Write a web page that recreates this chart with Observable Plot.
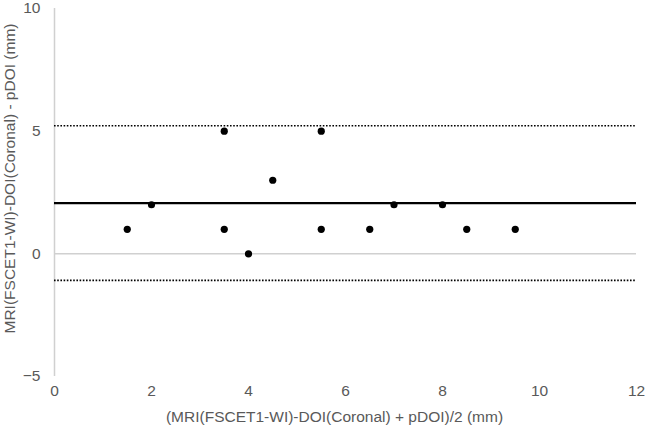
<!DOCTYPE html>
<html>
<head>
<meta charset="utf-8">
<script src="https://cdn.jsdelivr.net/npm/d3@7"></script>
<script src="https://cdn.jsdelivr.net/npm/@observablehq/plot@0.6"></script>
<style>
  html, body { margin: 0; padding: 0; background: #fff; }
  #chart { width: 646px; height: 430px; }
</style>
</head>
<body>
<div id="chart"></div>
<script>
const meanValues = [1.5, 2, 3.5, 3.5, 4, 4.5, 5.5, 5.5, 6.5, 7, 8, 8.5, 9.5];
const diffValues = [1, 2, 5, 1, 0, 3, 5, 1, 1, 2, 2, 1, 1];
const biasLine = 2.07;
const upperLimit = 5.22;
const lowerLimit = -1.08;
const xTicks = [0, 2, 4, 6, 8, 10, 12];
const yTicks = [-5, 0, 5, 10];
const xLabel = "(MRI(FSCET1-WI)-DOI(Coronal) + pDOI)/2 (mm)";
const yLabel = "MRI(FSCET1-WI)-DOI(Coronal) - pDOI (mm)";

const points = meanValues.map((m, i) => ({x: m, y: diffValues[i]}));
const labelColor = "#595959";

const chart = Plot.plot({
  width: 646,
  height: 430,
  marginLeft: 54,
  marginRight: 10,
  marginTop: 8,
  marginBottom: 54,
  style: {fontFamily: "'Liberation Sans', Arial, sans-serif", fontSize: "15.5px", background: "#fff"},
  x: {domain: [0, 12]},
  y: {domain: [-5, 10]},
  marks: [
    Plot.ruleY([0], {stroke: "#d0d0d0", strokeWidth: 1.5}),
    Plot.ruleX([0], {stroke: "#d0d0d0", strokeWidth: 1.5}),
    Plot.ruleY([upperLimit], {stroke: "#000", strokeWidth: 1.6, strokeDasharray: "1.6,1.6"}),
    Plot.ruleY([lowerLimit], {stroke: "#000", strokeWidth: 1.6, strokeDasharray: "1.6,1.6"}),
    Plot.ruleY([biasLine], {stroke: "#000", strokeWidth: 2.2}),
    Plot.dot(points, {x: "x", y: "y", r: 3.6, fill: "#000", stroke: "none"}),
    Plot.axisX(xTicks, {tickSize: 0, tickPadding: 8, fontSize: 15.5, fill: labelColor, label: null}),
    Plot.axisY(yTicks, {tickSize: 0, tickPadding: 14, fontSize: 15.5, fill: labelColor, label: null}),
    Plot.text([xLabel], {frameAnchor: "bottom", lineAnchor: "middle", textAnchor: "middle", dx: -11, dy: 41, fontSize: 15.5, fill: labelColor}),
    Plot.text([yLabel], {frameAnchor: "left", lineAnchor: "middle", textAnchor: "middle", dx: -44, dy: -14, rotate: -90, fontSize: 15.5, fill: labelColor})
  ]
});
document.getElementById("chart").appendChild(chart);
</script>
</body>
</html>
